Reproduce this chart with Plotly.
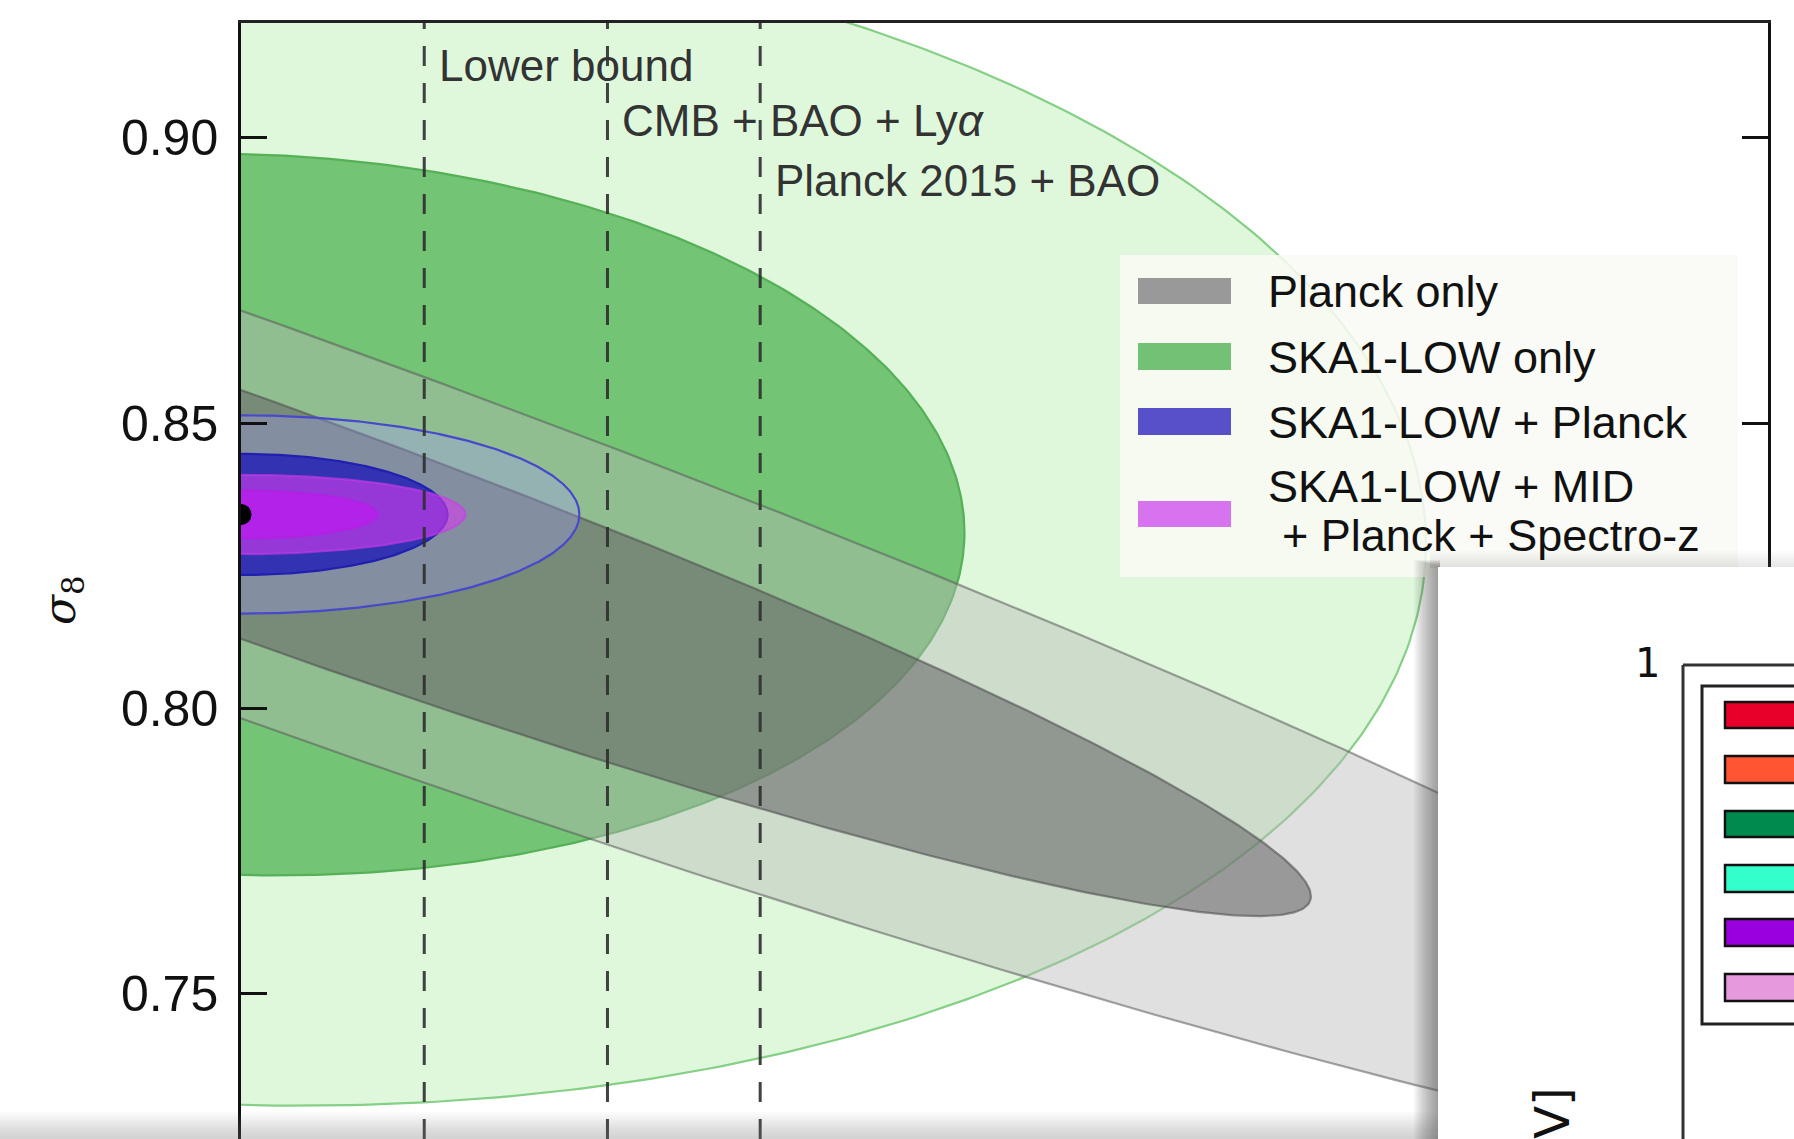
import numpy as np
import plotly.graph_objects as go

# ---------------- data ----------------
x_range = [0.0, 0.5]
y_range = [0.72458, 0.92011]

fiducial_mnu = [0.0]
fiducial_s8 = [0.834]

dataset_names = ["Planck only", "SKA1-LOW only", "SKA1-LOW + Planck",
                 "SKA1-LOW + MID + Planck + Spectro-z"]
sigma_mnu = [0.2310, 0.1562, 0.0446, 0.0296]
sigma_s8 = [0.0464, 0.0417, 0.0070, 0.0028]
rho = [-0.9507, -0.05, 0.0, 0.0]
delta_chi2 = [2.30, 6.17]  # 1-sigma, 2-sigma

bound_values = [0.06, 0.12, 0.17]
bound_labels = ["Lower bound", "CMB + BAO + Ly<i>α</i>", "Planck 2015 + BAO"]
bound_label_s8 = [0.9126, 0.9031, 0.8925]

y_tickvals = [0.75, 0.80, 0.85, 0.90]
y_ticktext = ["0.75", "0.80", "0.85", "0.90"]

legend_lines = ["Planck only", "SKA1-LOW only", "SKA1-LOW + Planck", "SKA1-LOW + MID"]
legend_extra_line = "+ Planck + Spectro-z"
legend_colors = ["#999999", "#72c175", "#5850c8", "#d873f0"]

inset_tick = "1"
inset_colors = ["#e8002a", "#ff5533", "#008a4e", "#33ffcc", "#9900dd", "#e699dd"]
inset_axis_label = "[eV]"

# ---------------- styles ----------------
W, H = 1794, 1139
L, R, T, B = 241, 1768, 23, 1139

fill_2s = ["rgba(183,183,183,0.43)", "#dff8dc", "rgba(160,152,255,0.30)", "rgba(215,60,240,0.60)"]
fill_1s = ["rgba(102,102,102,0.58)", "#73c475", "rgba(40,38,180,0.88)", "rgba(185,30,235,0.85)"]
line_2s = ["rgba(90,90,90,0.55)", "#86cf86", "#4848cc", "rgba(200,60,230,0.6)"]
line_1s = ["rgba(80,80,80,0.6)", "#55b058", "#2020b0", "rgba(180,30,230,0.6)"]
draw_order = [1, 0, 2, 3]


def px(xp):
    return (xp - L) / (R - L)


def py(yp):
    return 1 - (yp - T) / (B - T)


def ellipse(cx, cy, sx, sy, r, k, n=600):
    C = np.array([[sx * sx, r * sx * sy], [r * sx * sy, sy * sy]])
    Lc = np.linalg.cholesky(C)
    t = np.linspace(0, 2 * np.pi, n)
    pts = np.sqrt(k) * (Lc @ np.vstack([np.cos(t), np.sin(t)]))
    return cx + pts[0], cy + pts[1]


fig = go.Figure()

for i in draw_order:
    for level, (k, fc, lc) in enumerate([(delta_chi2[1], fill_2s[i], line_2s[i]),
                                          (delta_chi2[0], fill_1s[i], line_1s[i])]):
        ex, ey = ellipse(fiducial_mnu[0], fiducial_s8[0], sigma_mnu[i], sigma_s8[i], rho[i], k)
        fig.add_trace(go.Scatter(x=ex, y=ey, mode="lines", fill="toself",
                                 fillcolor=fc, line=dict(color=lc, width=2.2),
                                 hoverinfo="skip", showlegend=False,
                                 name=dataset_names[i]))

fig.add_trace(go.Scatter(x=fiducial_mnu, y=fiducial_s8, mode="markers",
                         marker=dict(color="black", size=21), cliponaxis=True,
                         showlegend=False, hoverinfo="skip"))

shapes = []
annotations = []

# dashed bounds
for bv in bound_values:
    shapes.append(dict(type="line", xref="x", yref="paper", x0=bv, x1=bv, y0=0, y1=1,
                       line=dict(color="rgba(45,45,45,0.9)", width=3, dash="20px,17px"),
                       layer="above"))
for bv, lab, ys in zip(bound_values, bound_labels, bound_label_s8):
    annotations.append(dict(xref="x", yref="y", x=bv, y=ys, xshift=13, text=lab,
                            showarrow=False, xanchor="left", yanchor="middle",
                            font=dict(family="Liberation Sans", size=44, color="#333333")))

# legend (manual)
shapes.append(dict(type="rect", xref="paper", yref="paper", x0=px(1120), x1=px(1738),
                   y0=py(577), y1=py(255), fillcolor="rgba(249,250,244,0.86)",
                   line=dict(width=0), layer="above"))
sw_rows = [(278, 304), (343, 370), (408, 435), (501, 527)]
txt_y = [292, 357, 422, 487]
for (y0, y1), col in zip(sw_rows, legend_colors):
    shapes.append(dict(type="rect", xref="paper", yref="paper", x0=px(1138), x1=px(1231),
                       y0=py(y1), y1=py(y0), fillcolor=col, line=dict(width=0), layer="above"))
for lab, yy in zip(legend_lines, txt_y):
    annotations.append(dict(xref="paper", yref="paper", x=px(1266), y=py(yy), text=lab,
                            showarrow=False, xanchor="left", yanchor="middle",
                            font=dict(family="Liberation Sans", size=45, color="#111111")))
annotations.append(dict(xref="paper", yref="paper", x=px(1280), y=py(535), text=legend_extra_line,
                        showarrow=False, xanchor="left", yanchor="middle",
                        font=dict(family="Liberation Sans", size=45, color="#111111")))

# y title
annotations.append(dict(xref="paper", yref="paper", x=px(62), y=py(600),
                        text="<i>σ</i><sub>8</sub>", textangle=-90, showarrow=False,
                        xanchor="center", yanchor="middle",
                        font=dict(family="DejaVu Serif", size=44, color="#111111")))

# bottom window-edge shade
nb = 12
for j in range(nb):
    y0 = 1112 + j * 2.2
    shapes.append(dict(type="rect", xref="paper", yref="paper", x0=px(-5), x1=px(1440),
                       y0=py(1145), y1=py(y0), fillcolor="rgba(140,140,140,0.03)",
                       line=dict(width=0), layer="above"))

# inset panel shadows
ns = 14
for j in range(ns):
    x0 = 1414 + j * 1.8
    shapes.append(dict(type="rect", xref="paper", yref="paper", x0=px(x0), x1=px(1440),
                       y0=py(1150), y1=py(560 + j * 0.5), fillcolor="rgba(70,70,70,0.05)",
                       line=dict(width=0), layer="above"))
for j in range(8):
    y0 = 551 + j * 2
    shapes.append(dict(type="rect", xref="paper", yref="paper", x0=px(1430), x1=px(1800),
                       y0=py(568), y1=py(y0), fillcolor="rgba(120,120,120,0.025)",
                       line=dict(width=0), layer="above"))
# inset panel
shapes.append(dict(type="rect", xref="paper", yref="paper", x0=px(1438), x1=px(1805),
                   y0=py(1150), y1=py(567), fillcolor="white", line=dict(width=0), layer="above"))
# inset axes frame
shapes.append(dict(type="line", xref="paper", yref="paper", x0=px(1683), x1=px(1805),
                   y0=py(665), y1=py(665), line=dict(color="#333333", width=3), layer="above"))
shapes.append(dict(type="line", xref="paper", yref="paper", x0=px(1683), x1=px(1683),
                   y0=py(665), y1=py(1150), line=dict(color="#333333", width=3), layer="above"))
# inset legend box
shapes.append(dict(type="rect", xref="paper", yref="paper", x0=px(1702), x1=px(1810),
                   y0=py(1024), y1=py(686), fillcolor="white",
                   line=dict(color="#222222", width=3), layer="above"))
inset_rows = [(702, 728), (756, 783), (811, 837), (865, 892), (919, 946), (974, 1001)]
for (y0, y1), col in zip(inset_rows, inset_colors):
    shapes.append(dict(type="rect", xref="paper", yref="paper", x0=px(1725), x1=px(1810),
                       y0=py(y1), y1=py(y0), fillcolor=col,
                       line=dict(color="#111111", width=2.5), layer="above"))
annotations.append(dict(xref="paper", yref="paper", x=px(1647), y=py(663), text=inset_tick,
                        showarrow=False, xanchor="center", yanchor="middle",
                        font=dict(family="DejaVu Sans", size=40, color="#111111")))
annotations.append(dict(xref="paper", yref="paper", x=px(1552), y=py(1137), text=inset_axis_label,
                        textangle=-90, showarrow=False, xanchor="center", yanchor="middle",
                        font=dict(family="DejaVu Sans", size=48, color="#111111")))

fig.update_layout(
    width=W, height=H,
    margin=dict(l=L, r=W - R, t=T, b=H - B, pad=0),
    paper_bgcolor="white", plot_bgcolor="white",
    showlegend=False,
    shapes=shapes, annotations=annotations,
    xaxis=dict(range=x_range, showticklabels=False, ticks="", showline=True,
               linecolor="#222222", linewidth=2.5, mirror=True, showgrid=False,
               zeroline=False, fixedrange=True),
    yaxis=dict(range=y_range, tickvals=y_tickvals, ticktext=y_ticktext, ticks="inside",
               ticklen=26, tickwidth=3, tickcolor="#111111", showline=True,
               linecolor="#111111", linewidth=2.5, mirror="ticks", showgrid=False,
               zeroline=False, ticklabelstandoff=10, fixedrange=True,
               tickfont=dict(family="Liberation Sans", size=50, color="#111111")),
)

fig.write_html("out.html", config={"displayModeBar": False},
               post_script="document.body.style.margin='0';document.body.style.overflow='hidden';")
